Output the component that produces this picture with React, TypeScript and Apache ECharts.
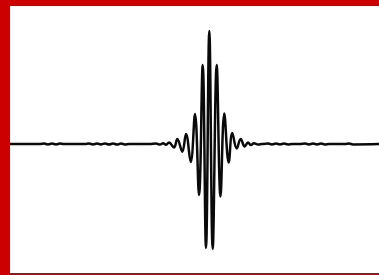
import React, { useEffect, useRef } from "react";
import * as echarts from "echarts";

// time samples (arbitrary units) and signal amplitude
const times: number[] = [
  0, 30, 34, 38, 42, 46, 50, 54, 75, 79, 83, 87, 91, 95, 99, 103, 107, 111, 115, 119,
  140, 146, 150, 153, 156, 159, 164, 167.3, 172.3, 176, 180.7, 185, 189, 192.7, 196,
  199.3, 202.7, 206.7, 210.5, 214.3, 218.7, 222.3, 226.7, 230.7, 234.7, 238, 241, 244,
  248, 252, 258, 262, 266, 270, 274, 278, 282, 290, 295, 299, 303, 307, 311, 315, 319,
  335, 339, 343, 369,
];
const amplitude: number[] = [
  0, 0, 0.003, -0.003, 0.003, -0.003, 0.003, 0, 0, 0.003, -0.003, 0.003, -0.003, 0.004,
  -0.004, 0.004, -0.004, 0.003, -0.003, 0,
  0, 0.003, -0.004, 0.005, -0.006, 0.012, -0.027, 0.039, -0.06, 0.078, -0.14, 0.233,
  -0.395, 0.612, -0.806, 0.876, -0.814, 0.612, -0.407, 0.236, -0.143, 0.085, -0.035,
  0.039, -0.019, 0.012, -0.008, 0.006, -0.004, 0, 0.003, -0.003, 0.003, -0.003, 0.003,
  -0.003, 0, 0, 0.003, -0.003, 0.003, -0.003, 0.003, -0.003, 0, 0, 0.003, -0.003, 0,
];

const frameColor = "#cc0000";

export default function App() {
  const ref = useRef<HTMLDivElement>(null);
  useEffect(() => {
    if (!ref.current) return;
    const chart = echarts.init(ref.current, undefined, { renderer: "svg" });
    const data = times.map((t, i) => [t, amplitude[i]]);
    chart.setOption({
      animation: false,
      backgroundColor: "#ffffff",
      grid: { left: 10, right: 0, top: 15, bottom: 2 },
      xAxis: { type: "value", min: 0, max: 369, show: false },
      yAxis: { type: "value", min: -1, max: 1, show: false },
      series: [
        {
          type: "line",
          data,
          smooth: 0.4,
          showSymbol: false,
          lineStyle: { color: "#0a0a0a", width: 2.5 },
        },
      ],
      graphic: [
        { type: "rect", left: 0, top: 0, shape: { width: 10, height: 275 }, style: { fill: frameColor } },
        { type: "rect", left: 0, top: 0, shape: { width: 379, height: 6 }, style: { fill: frameColor } },
        { type: "rect", left: 0, top: 273, shape: { width: 379, height: 2 }, style: { fill: frameColor } },
      ],
    });
    return () => chart.dispose();
  }, []);
  return (
    <div
      ref={ref}
      style={{ position: "fixed", left: 0, top: 0, width: 379, height: 275 }}
    />
  );
}
